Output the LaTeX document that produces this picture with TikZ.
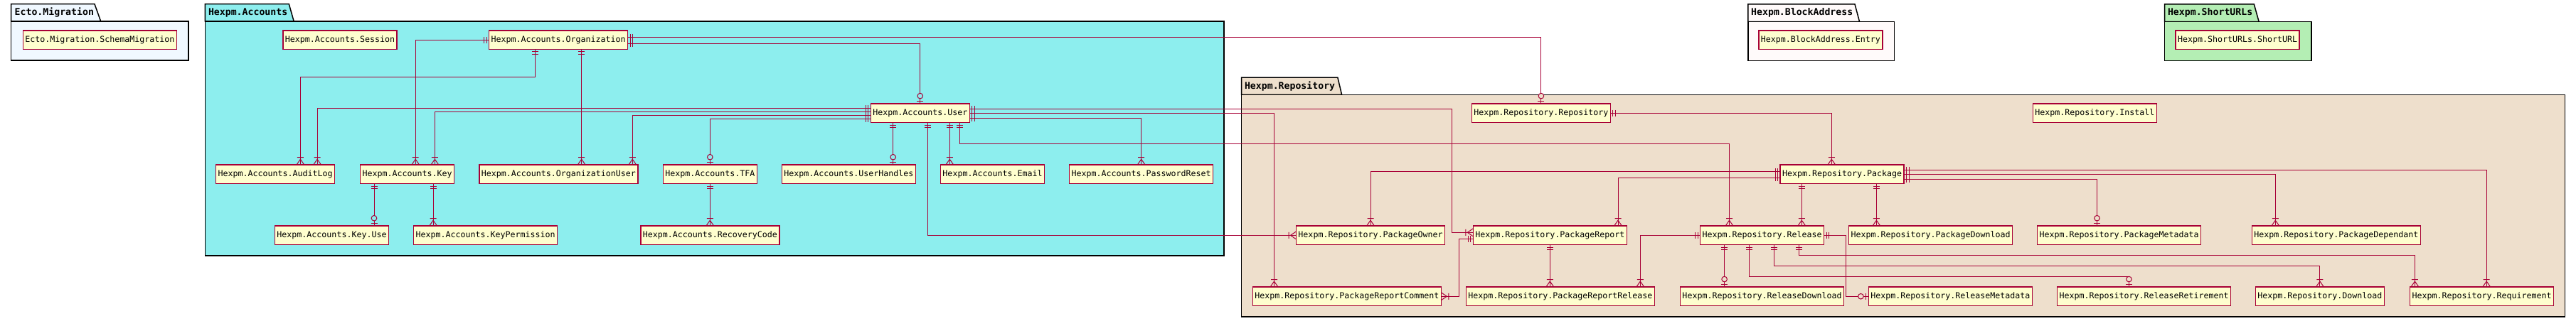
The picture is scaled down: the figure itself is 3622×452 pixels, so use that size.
\documentclass[tikz,border=0pt]{standalone}
\usepackage{fontspec}
\newfontfamily\entfont{DejaVu Sans Mono}
\definecolor{entfill}{HTML}{FEFECE}
\definecolor{crim}{HTML}{A80036}
\definecolor{ectobg}{HTML}{F0F8FF}
\definecolor{acctbg}{HTML}{8DEEEE}
\definecolor{blockbg}{HTML}{FFFAFA}
\definecolor{shortbg}{HTML}{B4EEB4}
\definecolor{repobg}{HTML}{EEDFCC}
\tikzset{
  ent/.style={draw=crim, line width=1.5pt, fill=entfill, inner sep=0pt, outer sep=0pt,
    minimum height=26.4pt, font=\entfont\fontsize{11.63}{14}\selectfont, text=black},
  rel/.style={draw=crim, line width=1pt},
  pkgline/.style={draw=black, line width=1.5pt},
  pkglabel/.style={inner sep=0pt, anchor=west, font=\entfont\bfseries\fontsize{13.2}{15}\selectfont, text=black},
  dN/.style={rotate=90}, dS/.style={rotate=-90}, dE/.style={rotate=0}, dW/.style={rotate=180},
  one/.pic={\draw[crim, line width=1pt] (3.5,-4.5) -- (3.5,4.5) (7,-4.5) -- (7,4.5);},
  many/.pic={\draw[crim, line width=1pt] (0,-5.5) -- (8,0) -- (0,5.5) (10.5,-4.5) -- (10.5,4.5);},
  zo/.pic={\draw[crim, line width=1pt] (3.5,-4.5) -- (3.5,4.5);
           \draw[crim, line width=1pt, fill=#1] (11,0) circle[radius=3.8pt];},
}
\begin{document}
\begin{tikzpicture}[x=1pt,y=-1pt]
\useasboundingbox (0,0) rectangle (3622,452);
% ---------- packages ----------
% Ecto.Migration
\draw[pkgline, fill=ectobg] (15.7,30) -- (15.7,5.7) -- (133,5.7) -- (141.7,30) -- cycle;
\draw[pkgline, fill=ectobg] (15.7,30) rectangle (265,85);
\node[pkglabel] (lblecto) at (20.5,18) {Ecto.Migration};
% Hexpm.Accounts
\draw[pkgline, fill=acctbg] (288.4,30) -- (288.4,5.7) -- (406.3,5.7) -- (413.2,30) -- cycle;
\draw[pkgline, fill=acctbg] (288.4,30) rectangle (1721,360);
\node[pkglabel] (lblacct) at (292.8,18) {Hexpm.Accounts};
% Hexpm.BlockAddress
\draw[pkgline, fill=blockbg] (2457.8,30.7) -- (2457.8,6) -- (2608,6) -- (2614.6,30.7) -- cycle;
\draw[pkgline, fill=blockbg] (2457.8,30.7) rectangle (2663.5,85.7);
\node[pkglabel] (lblblock) at (2462,18.3) {Hexpm.BlockAddress};
% Hexpm.ShortURLs
\draw[pkgline, fill=shortbg] (3043.6,30.7) -- (3043.6,6) -- (3169.3,6) -- (3176.2,30.7) -- cycle;
\draw[pkgline, fill=shortbg] (3043.6,30.7) rectangle (3249.9,85.7);
\node[pkglabel] (lblshort) at (3047.8,18.3) {Hexpm.ShortURLs};
% Hexpm.Repository
\draw[pkgline, fill=repobg] (1745.5,133.3) -- (1745.5,109) -- (1880.8,109) -- (1886.6,133.3) -- cycle;
\draw[pkgline, fill=repobg] (1745.5,133.3) rectangle (3606.7,446);
\node[pkglabel] (lblrepo) at (1749.8,121.2) {Hexpm.Repository};
% ---------- entities ----------
\node[ent, minimum width=216pt] (schema) at (140.3,56.3) {Ecto.Migration.SchemaMigration};
\node[ent, minimum width=160pt] (session) at (478,56.3) {Hexpm.Accounts.Session};
\node[ent, minimum width=195pt] (org) at (785.2,56.3) {Hexpm.Accounts.Organization};
\node[ent, minimum width=139pt] (user) at (1293.8,159.3) {Hexpm.Accounts.User};
\node[ent, minimum width=167pt] (audit) at (387.2,245.4) {Hexpm.Accounts.AuditLog};
\node[ent, minimum width=132pt] (key) at (572.6,245.4) {Hexpm.Accounts.Key};
\node[ent, minimum width=223pt] (orguser) at (785.3,245.4) {Hexpm.Accounts.OrganizationUser};
\node[ent, minimum width=132pt] (tfa) at (998.3,245.4) {Hexpm.Accounts.TFA};
\node[ent, minimum width=188pt] (handles) at (1193.3,245.4) {Hexpm.Accounts.UserHandles};
\node[ent, minimum width=146pt] (email) at (1395.5,245.4) {Hexpm.Accounts.Email};
\node[ent, minimum width=202pt] (pwreset) at (1604.7,245.4) {Hexpm.Accounts.PasswordReset};
\node[ent, minimum width=160pt] (keyuse) at (466.5,331.4) {Hexpm.Accounts.Key.Use};
\node[ent, minimum width=202pt] (keyperm) at (682.6,331.4) {Hexpm.Accounts.KeyPermission};
\node[ent, minimum width=195pt] (recovery) at (998.3,331.4) {Hexpm.Accounts.RecoveryCode};
\node[ent, minimum width=174pt] (entry) at (2559.9,56.3) {Hexpm.BlockAddress.Entry};
\node[ent, minimum width=174pt] (shorturl) at (3146,56.3) {Hexpm.ShortURLs.ShortURL};
\node[ent, minimum width=195pt] (repo) at (2166.9,159.3) {Hexpm.Repository.Repository};
\node[ent, minimum width=174pt] (install) at (2945.3,159.3) {Hexpm.Repository.Install};
\node[ent, minimum width=174pt] (package) at (2590.2,245.4) {Hexpm.Repository.Package};
\node[ent, minimum width=209pt] (pkgowner) at (1927,331.4) {Hexpm.Repository.PackageOwner};
\node[ent, minimum width=216pt] (pkgreport) at (2179.3,331.4) {Hexpm.Repository.PackageReport};
\node[ent, minimum width=174pt] (release) at (2477.5,331.4) {Hexpm.Repository.Release};
\node[ent, minimum width=230pt] (pkgdownload) at (2714.5,331.4) {Hexpm.Repository.PackageDownload};
\node[ent, minimum width=230pt] (pkgmeta) at (2979.5,331.4) {Hexpm.Repository.PackageMetadata};
\node[ent, minimum width=237pt] (pkgdep) at (3284.9,331.4) {Hexpm.Repository.PackageDependant};
\node[ent, minimum width=265pt] (prcomment) at (1893.8,417.3) {Hexpm.Repository.PackageReportComment};
\node[ent, minimum width=265pt] (prrelease) at (2193.8,417.3) {Hexpm.Repository.PackageReportRelease};
\node[ent, minimum width=230pt] (reldownload) at (2477.5,417.3) {Hexpm.Repository.ReleaseDownload};
\node[ent, minimum width=230pt] (relmeta) at (2742.4,417.3) {Hexpm.Repository.ReleaseMetadata};
\node[ent, minimum width=244pt] (relretire) at (3014.5,417.3) {Hexpm.Repository.ReleaseRetirement};
\node[ent, minimum width=181pt] (download) at (3261.9,417.3) {Hexpm.Repository.Download};
\node[ent, minimum width=202pt] (requirement) at (3489.5,417.3) {Hexpm.Repository.Requirement};
% ---------- connectors ----------
\draw[rel] (org.south -| 752.6,0) |- (422.4,108.3) -- (audit.north -| 422.4,0);
\draw[rel] (org.south -| 817.7,0) -- (orguser.north -| 817.7,0);
\draw[rel] (org.west) -| (key.north -| 584.2,0);
\draw[rel] (org.east |- 0,52.3) -| (repo.north);
\draw[rel] (org.east |- 0,61.3) -| (user.north);
\draw[rel] (user.west |- 0,152.3) -| (audit.north -| 446.1,0);
\draw[rel] (user.west |- 0,157.3) -| (key.north -| 611.4,0);
\draw[rel] (user.west |- 0,162.3) -| (orguser.north -| 889.3,0);
\draw[rel] (user.west |- 0,167.3) -| (tfa.north);
\draw[rel] (user.south -| 1255.7,0) -- (handles.north -| 1255.7,0);
\draw[rel] (user.south -| 1304.3,0) |- (pkgowner.west);
\draw[rel] (user.south -| 1335.3,0) -- (email.north -| 1335.3,0);
\draw[rel] (user.south -| 1349.3,0) |- (2431.5,202.3) -- (release.north -| 2431.5,0);
\draw[rel] (user.east |- 0,166) -| (pwreset.north);
\draw[rel] (user.east |- 0,153.3) -| (2041.5,327.3) -- (pkgreport.west |- 0,327.3);
\draw[rel] (user.east |- 0,159.3) -| (prcomment.north -| 1791.5,0);
\draw[rel] (key.south -| 526,0) -- (keyuse.north -| 526,0);
\draw[rel] (key.south -| 609.1,0) -- (keyperm.north -| 609.1,0);
\draw[rel] (tfa.south) -- (recovery.north);
\draw[rel] (repo.east) -| (package.north -| 2575.3,0);
\draw[rel] (package.west |- 0,241.3) -| (pkgowner.north);
\draw[rel] (package.west |- 0,250.3) -| (pkgreport.north -| 2275,0);
\draw[rel] (package.south -| 2533.3,0) -- (release.north -| 2533.3,0);
\draw[rel] (package.south -| 2638.4,0) -- (pkgdownload.north -| 2638.4,0);
\draw[rel] (package.east |- 0,252.3) -| (pkgmeta.north -| 2948.5,0);
\draw[rel] (package.east |- 0,245.7) -| (pkgdep.north -| 3199.3,0);
\draw[rel] (package.east |- 0,239.3) -| (requirement.north -| 3496.2,0);
\draw[rel] (release.west) -| (prrelease.north -| 2306.3,0);
\draw[rel] (release.east) -| (2595.5,417.3) -- (relmeta.west);
\draw[rel] (release.south -| 2424.6,0) -- (reldownload.north -| 2424.6,0);
\draw[rel] (release.south -| 2459.4,0) |- (2993.4,389.3) -- (relretire.north -| 2993.4,0);
\draw[rel] (release.south -| 2494.6,0) |- (download.north |- 0,374.3) -- (download.north);
\draw[rel] (release.south -| 2529.5,0) |- (3395.4,359.3) -- (requirement.north -| 3395.4,0);
\draw[rel] (pkgreport.west |- 0,336.7) -| (2051.3,417.3) -- (prcomment.east);
\draw[rel] (pkgreport.south) -- (prrelease.north -| pkgreport.south);
% ---------- markers ----------
\pic[dS] at (org.south -| 752.6,0) {one};   \pic[dN] at (audit.north -| 422.4,0) {many};
\pic[dS] at (org.south -| 817.7,0) {one};   \pic[dN] at (orguser.north -| 817.7,0) {many};
\pic[dW] at (org.west) {one};               \pic[dN] at (key.north -| 584.2,0) {many};
\pic[dE] at (org.east |- 0,52.3) {one};     \pic[dN] at (repo.north) {zo=repobg};
\pic[dE] at (org.east |- 0,61.3) {one};     \pic[dN] at (user.north) {zo=acctbg};
\pic[dW] at (user.west |- 0,152.3) {one};   \pic[dN] at (audit.north -| 446.1,0) {many};
\pic[dW] at (user.west |- 0,157.3) {one};   \pic[dN] at (key.north -| 611.4,0) {many};
\pic[dW] at (user.west |- 0,162.3) {one};   \pic[dN] at (orguser.north -| 889.3,0) {many};
\pic[dW] at (user.west |- 0,167.3) {one};   \pic[dN] at (tfa.north) {zo=acctbg};
\pic[dS] at (user.south -| 1255.7,0) {one}; \pic[dN] at (handles.north -| 1255.7,0) {zo=acctbg};
\pic[dS] at (user.south -| 1304.3,0) {one}; \pic[dW] at (pkgowner.west) {many};
\pic[dS] at (user.south -| 1335.3,0) {one}; \pic[dN] at (email.north -| 1335.3,0) {many};
\pic[dS] at (user.south -| 1349.3,0) {one}; \pic[dN] at (release.north -| 2431.5,0) {many};
\pic[dE] at (user.east |- 0,166) {one};     \pic[dN] at (pwreset.north) {many};
\pic[dE] at (user.east |- 0,153.3) {one};   \pic[dW] at (pkgreport.west |- 0,327.3) {many};
\pic[dE] at (user.east |- 0,159.3) {one};   \pic[dN] at (prcomment.north -| 1791.5,0) {many};
\pic[dS] at (key.south -| 526,0) {one};     \pic[dN] at (keyuse.north -| 526,0) {zo=acctbg};
\pic[dS] at (key.south -| 609.1,0) {one};   \pic[dN] at (keyperm.north -| 609.1,0) {many};
\pic[dS] at (tfa.south) {one};              \pic[dN] at (recovery.north) {many};
\pic[dE] at (repo.east) {one};              \pic[dN] at (package.north -| 2575.3,0) {many};
\pic[dW] at (package.west |- 0,241.3) {one}; \pic[dN] at (pkgowner.north) {many};
\pic[dW] at (package.west |- 0,250.3) {one}; \pic[dN] at (pkgreport.north -| 2275,0) {many};
\pic[dS] at (package.south -| 2533.3,0) {one}; \pic[dN] at (release.north -| 2533.3,0) {many};
\pic[dS] at (package.south -| 2638.4,0) {one}; \pic[dN] at (pkgdownload.north -| 2638.4,0) {many};
\pic[dE] at (package.east |- 0,252.3) {one}; \pic[dN] at (pkgmeta.north -| 2948.5,0) {zo=repobg};
\pic[dE] at (package.east |- 0,245.7) {one}; \pic[dN] at (pkgdep.north -| 3199.3,0) {many};
\pic[dE] at (package.east |- 0,239.3) {one}; \pic[dN] at (requirement.north -| 3496.2,0) {many};
\pic[dW] at (release.west) {one};           \pic[dN] at (prrelease.north -| 2306.3,0) {many};
\pic[dE] at (release.east) {one};           \pic[dW] at (relmeta.west) {zo=repobg};
\pic[dS] at (release.south -| 2424.6,0) {one}; \pic[dN] at (reldownload.north -| 2424.6,0) {zo=repobg};
\pic[dS] at (release.south -| 2459.4,0) {one}; \pic[dN] at (relretire.north -| 2993.4,0) {zo=repobg};
\pic[dS] at (release.south -| 2494.6,0) {one}; \pic[dN] at (download.north) {many};
\pic[dS] at (release.south -| 2529.5,0) {one}; \pic[dN] at (requirement.north -| 3395.4,0) {many};
\pic[dW] at (pkgreport.west |- 0,336.7) {one}; \pic[dE] at (prcomment.east) {many};
\pic[dS] at (pkgreport.south) {one};        \pic[dN] at (prrelease.north -| pkgreport.south) {many};
\end{tikzpicture}
\end{document}
